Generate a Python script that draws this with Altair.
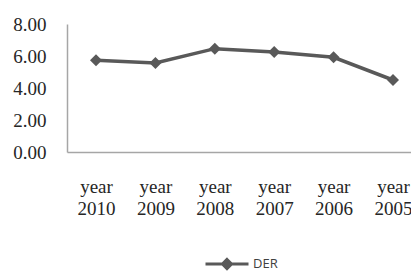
import altair as alt
import pandas as pd

years = ["year 2010", "year 2009", "year 2008", "year 2007", "year 2006", "year 2005"]
der = [5.73, 5.56, 6.46, 6.25, 5.92, 4.50]
series = ["DER"] * len(years)

df = pd.DataFrame({"year": years, "value": der, "series": series})

color = alt.Color(
    "series:N",
    scale=alt.Scale(domain=["DER"], range=["#595959"]),
    legend=alt.Legend(
        title=None,
        orient="none",
        legendX=137,
        legendY=217,
        padding=0,
        symbolType="M-1,0L1,0M0,-0.21L0.21,0L0,0.21L-0.21,0Z",
        symbolSize=1849,
        symbolStrokeWidth=3,
        symbolFillColor="#595959",
        symbolStrokeColor="#595959",
        labelFont="Open Sans",
        labelFontSize=13,
        labelColor="#404040",
        labelOffset=3,
    ),
)

x = alt.X(
    "year:N",
    sort=years,
    scale=alt.Scale(type="point", padding=0.396, align=0.617),
    axis=alt.Axis(
        title=None,
        labelAngle=0,
        labelExpr="split(datum.label, ' ')",
        labelFont="Liberation Serif",
        labelFontSize=19,
        labelColor="#262626",
        labelLineHeight=22,
        labelPadding=25,
        ticks=False,
        domainColor="#a6a6a6",
        domainWidth=1.5,
        grid=False,
    ),
)

y = alt.Y(
    "value:Q",
    scale=alt.Scale(domain=[0, 8]),
    axis=alt.Axis(
        title=None,
        values=[0, 2, 4, 6, 8],
        format=".2f",
        labelFont="Liberation Serif",
        labelFontSize=19,
        labelColor="#262626",
        labelPadding=21,
        ticks=False,
        grid=False,
        domainColor="#a6a6a6",
        domainWidth=1.5,
    ),
)

base = alt.Chart(df).encode(x=x, y=y, color=color)
line = base.mark_line(strokeWidth=3.5)
pts = base.mark_point(shape="diamond", filled=True, size=144, opacity=1)

chart = (
    alt.layer(line, pts)
    .properties(
        width=344,
        height=128,
        padding={"left": 59, "top": 16, "right": 0, "bottom": 121},
        autosize=alt.AutoSizeParams(type="none"),
        background="white",
    )
    .configure_view(stroke=None)
)

chart.save("out.html", embed_options={"renderer": "svg", "actions": False})
